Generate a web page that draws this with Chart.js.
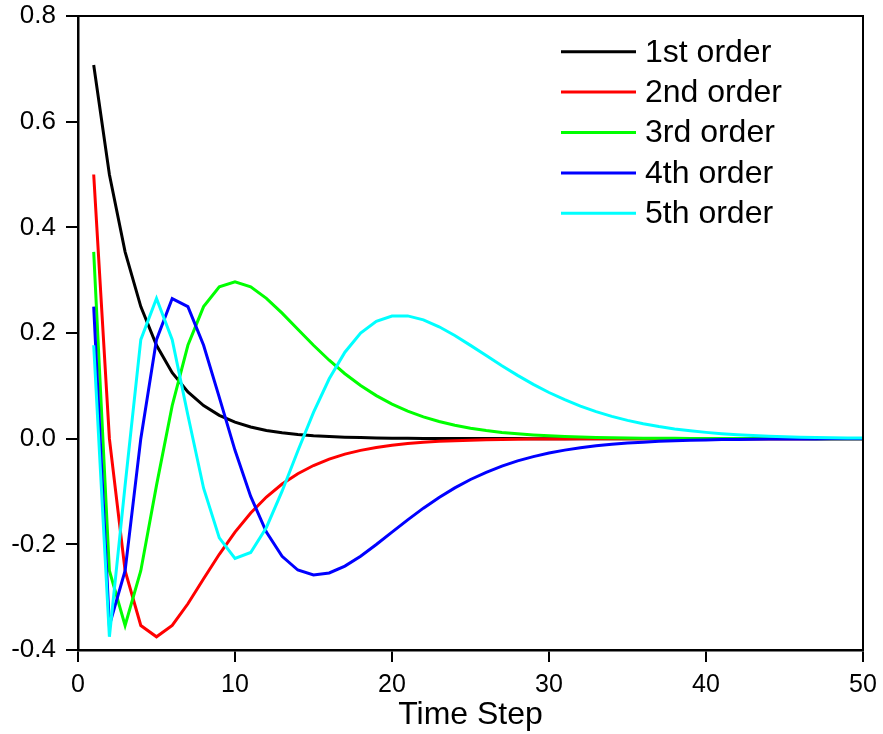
<!DOCTYPE html>
<html>
<head>
<meta charset="utf-8">
<script src="https://cdn.jsdelivr.net/npm/chart.js@4.4.1/dist/chart.umd.min.js"></script>
<style>
html, body { margin: 0; padding: 0; background: #ffffff; }
canvas { display: block; }
</style>
</head>
<body>
<canvas id="c" width="883" height="734"></canvas>
<script>
const steps = [1,2,3,4,5,6,7,8,9,10,11,12,13,14,15,16,17,18,19,20,21,22,23,24,25,26,27,28,29,30,31,32,33,34,35,36,37,38,39,40,41,42,43,44,45,46,47,48,49,50];

const order1 = [0.7071,0.5,0.3536,0.25,0.1768,0.125,0.0884,0.0625,0.0442,0.0313,
  0.0221,0.0156,0.011,0.0078,0.0055,0.0039,0.0028,0.002,0.0014,0.001,
  0.0007,0.0005,0.0003,0.0002,0.0002,0.0001,0.0001,0.0001,0,0,
  0,0,0,0,0,0,0,0,0,0,
  0,0,0,0,0,0,0,0,0,0];

const order2 = [0.5,0,-0.25,-0.3536,-0.375,-0.3536,-0.3125,-0.2652,-0.2188,-0.1768,
  -0.1406,-0.1105,-0.0859,-0.0663,-0.0508,-0.0387,-0.0293,-0.0221,-0.0166,-0.0124,
  -0.0093,-0.0069,-0.0051,-0.0038,-0.0028,-0.0021,-0.0015,-0.0011,-0.0008,-0.0006,
  -0.0004,-0.0003,-0.0002,-0.0002,-0.0001,-0.0001,-0.0001,0,0,0,
  0,0,0,0,0,0,0,0,0,0];

const order3 = [0.3536,-0.25,-0.3536,-0.25,-0.0884,0.0625,0.1768,0.25,0.2873,0.2969,
  0.2873,0.2656,0.2375,0.207,0.1768,0.1484,0.1229,0.1006,0.0815,0.0654,
  0.0521,0.0413,0.0325,0.0254,0.0198,0.0153,0.0118,0.0091,0.007,0.0053,
  0.0041,0.0031,0.0023,0.0018,0.0013,0.001,0.0008,0.0006,0.0004,0.0003,
  0.0002,0.0002,0.0001,0.0001,0.0001,0.0001,0,0,0,0];

const order4 = [0.25,-0.3536,-0.25,0,0.1875,0.2652,0.25,0.1768,0.0781,-0.0221,
  -0.1094,-0.1768,-0.2227,-0.2486,-0.2578,-0.2541,-0.2412,-0.2224,-0.2002,-0.1768,
  -0.1536,-0.1315,-0.1113,-0.0932,-0.0773,-0.0636,-0.0519,-0.0421,-0.034,-0.0272,
  -0.0217,-0.0172,-0.0136,-0.0107,-0.0084,-0.0066,-0.0051,-0.004,-0.0031,-0.0024,
  -0.0018,-0.0014,-0.0011,-0.0008,-0.0006,-0.0005,-0.0004,-0.0003,-0.0002,-0.0002];

const order5 = [0.1768,-0.375,-0.0884,0.1875,0.2652,0.1875,0.0442,-0.0938,-0.1878,-0.2266,
  -0.2154,-0.168,-0.0994,-0.0234,0.0497,0.1133,0.1637,0.1997,0.222,0.2322,
  0.2324,0.2249,0.2118,0.1952,0.1766,0.1572,0.138,0.1198,0.1028,0.0874,
  0.0737,0.0616,0.0512,0.0422,0.0346,0.0282,0.0229,0.0185,0.0149,0.0119,
  0.0095,0.0076,0.006,0.0047,0.0037,0.0029,0.0023,0.0018,0.0014,0.0011];

const seriesLabels = ['1st order', '2nd order', '3rd order', '4th order', '5th order'];
const seriesValues = [order1, order2, order3, order4, order5];
const seriesColors = ['#000000', '#ff0000', '#00ff00', '#0000ff', '#00ffff'];

const xTicks = [0, 10, 20, 30, 40, 50];
const yTicks = [-0.4, -0.2, 0, 0.2, 0.4, 0.6, 0.8];
const xTitle = 'Time Step';

const FONT = '"Liberation Sans", Arial, Helvetica, sans-serif';

const datasets = seriesValues.map((vals, i) => ({
  label: seriesLabels[i],
  data: steps.map((s, j) => ({ x: s, y: vals[j] })),
  borderColor: seriesColors[i],
  backgroundColor: seriesColors[i],
  borderWidth: 3,
  pointRadius: 0,
  tension: 0,
  fill: false,
  order: seriesValues.length - i
}));

const legendPlugin = {
  id: 'insideLegend',
  afterDraw(chart) {
    const ctx = chart.ctx;
    const ds = chart.data.datasets;
    ctx.save();
    ds.forEach((d, i) => {
      const y = 51.7 + i * 40.4;
      ctx.strokeStyle = d.borderColor;
      ctx.lineWidth = 3;
      ctx.beginPath();
      ctx.moveTo(561, y);
      ctx.lineTo(636, y);
      ctx.stroke();
      ctx.fillStyle = '#000000';
      ctx.font = '32px ' + FONT;
      ctx.textAlign = 'left';
      ctx.textBaseline = 'middle';
      ctx.fillText(d.label, 645, y + 1);
    });
    ctx.restore();
  }
};

const framePlugin = {
  id: 'frame',
  afterDraw(chart) {
    const { ctx, chartArea: a } = chart;
    ctx.save();
    ctx.strokeStyle = '#000000';
    ctx.lineWidth = 2;
    ctx.beginPath();
    ctx.moveTo(a.left, a.top);
    ctx.lineTo(a.right, a.top);
    ctx.lineTo(a.right, a.bottom);
    ctx.stroke();
    ctx.restore();
  }
};

const bgPlugin = {
  id: 'bg',
  beforeDraw(chart) {
    const ctx = chart.ctx;
    ctx.save();
    ctx.fillStyle = '#ffffff';
    ctx.fillRect(0, 0, chart.width, chart.height);
    ctx.restore();
  }
};

new Chart(document.getElementById('c'), {
  type: 'line',
  data: { datasets },
  plugins: [bgPlugin, framePlugin, legendPlugin],
  options: {
    responsive: false,
    animation: false,
    devicePixelRatio: 1,
    layout: { padding: { left: 0, right: 20, top: 16, bottom: 0 } },
    plugins: {
      legend: { display: false },
      tooltip: { enabled: false }
    },
    scales: {
      x: {
        type: 'linear',
        min: 0,
        max: 50,
        afterBuildTicks: (scale) => { scale.ticks = xTicks.map(v => ({ value: v })); },
        afterFit: (scale) => {
          scale.height = 84;
          scale.paddingLeft = 0; scale.paddingRight = 0;
          scale.paddingTop = 0; scale.paddingBottom = 0;
        },
        grid: {
          drawOnChartArea: false,
          drawTicks: true,
          tickLength: 12,
          color: '#000000',
          lineWidth: 2
        },
        border: { display: true, color: '#000000', width: 2.5 },
        ticks: {
          color: '#000000',
          font: { family: FONT, size: 25 },
          padding: 8,
          maxRotation: 0,
          autoSkip: false,
          callback: (v) => String(v)
        },
        title: {
          display: true,
          text: xTitle,
          color: '#000000',
          font: { family: FONT, size: 32, lineHeight: 1.2 },
          padding: { top: 0, bottom: 0 }
        }
      },
      y: {
        type: 'linear',
        min: -0.4,
        max: 0.8,
        afterBuildTicks: (scale) => { scale.ticks = yTicks.map(v => ({ value: v })); },
        afterFit: (scale) => {
          scale.width = 78;
          scale.paddingLeft = 0; scale.paddingRight = 0;
          scale.paddingTop = 0; scale.paddingBottom = 0;
        },
        grid: {
          drawOnChartArea: false,
          drawTicks: true,
          tickLength: 12,
          color: '#000000',
          lineWidth: 2
        },
        border: { display: true, color: '#000000', width: 2.5 },
        ticks: {
          color: '#000000',
          font: { family: FONT, size: 26 },
          padding: 10,
          autoSkip: false,
          callback: (v) => Number(v).toFixed(1)
        }
      }
    }
  }
});
</script>
</body>
</html>
